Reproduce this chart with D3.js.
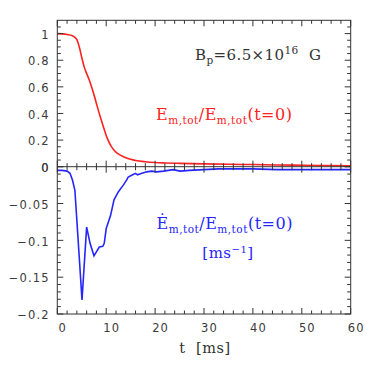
<!DOCTYPE html>
<html><head><meta charset="utf-8">
<script src="https://cdn.jsdelivr.net/npm/d3@7"></script>
<style>body{margin:0;background:#fff}svg{display:block}</style>
</head><body>
<script>
// ---- data ----
const tRed = [0,1,2,3,3.5,4,4.5,5,5.5,6,6.5,7,7.5,8,8.5,9,9.5,10,10.5,11,11.5,12,13,14,15,16,18,20,22,25,30,35,40,45,50,55,60];
const eRed = [1.0,0.998,0.993,0.985,0.975,0.955,0.9,0.82,0.75,0.7,0.655,0.6,0.54,0.475,0.41,0.35,0.29,0.235,0.19,0.155,0.13,0.11,0.085,0.068,0.056,0.047,0.037,0.031,0.028,0.025,0.021,0.018,0.016,0.013,0.011,0.009,0.007];
const tBlue = [0,1,2,2.6,3.1,3.6,4.0,4.5,5.05,5.5,6.0,6.7,7.5,8.05,8.6,9.3,9.6,10.0,10.9,11.6,12.5,13.5,14.2,14.5,15.4,16.0,16.4,17.3,18.3,19.3,20.3,21.7,23.7,25.1,27,30,33,36,40,45,50,55,60];
const eBlue = [-0.005,-0.005,-0.006,-0.009,-0.018,-0.032,-0.073,-0.124,-0.181,-0.134,-0.082,-0.104,-0.121,-0.115,-0.109,-0.108,-0.104,-0.084,-0.066,-0.045,-0.034,-0.025,-0.018,-0.014,-0.011,-0.009,-0.011,-0.009,-0.007,-0.006,-0.007,-0.006,-0.004,-0.006,-0.005,-0.004,-0.003,-0.003,-0.003,-0.004,-0.004,-0.004,-0.004];
const xTickLabels = ["0","10","20","30","40","50","60"];
const yTopTickLabels = ["0","0.2","0.4","0.6","0.8","1"];
const yBotTickLabels = ["0","−0.05","−0.1","−0.15","−0.2"];

const W = 371, H = 371;
const L = 57.3, R = 350.7, T = 20.3, M = 166.7, B = 314;
const frame = "#333";
const red = "#ff2020", blue = "#2525ff";

const svg = d3.select("body").append("svg").attr("width", W).attr("height", H);

const x = d3.scaleLinear().domain([0, 60]).range([L, R]);
const yT = d3.scaleLinear().domain([0, 1.1]).range([M, T]);
const yB = d3.scaleLinear().domain([-0.2, 0]).range([B, M]);

// curves
const lineT = d3.line().x((d,i)=>x(tRed[i])).y(d=>yT(d)).curve(d3.curveMonotoneX);
const lineB = d3.line().x((d,i)=>x(tBlue[i])).y(d=>yB(d)).curve(d3.curveLinear);
svg.append("path").datum(eRed).attr("d", lineT).attr("fill","none").attr("stroke",red).attr("stroke-width",1.6);
svg.append("path").datum(eBlue).attr("d", lineB).attr("fill","none").attr("stroke",blue).attr("stroke-width",1.6);

// frame
const g = svg.append("g").attr("stroke", frame).attr("stroke-width", 1).attr("fill","none");
g.append("rect").attr("x", L).attr("y", T).attr("width", R-L).attr("height", B-T);
g.append("line").attr("x1", L).attr("x2", R).attr("y1", M).attr("y2", M);

const majLen = 6, minLen = 3.5;
// x ticks
const xMinor = d3.range(0, 60.001, 2);
xMinor.forEach(v => {
  const maj = Math.abs(v % 10) < 1e-6;
  const len = maj ? majLen : minLen;
  const px = x(v);
  g.append("line").attr("x1",px).attr("x2",px).attr("y1",B).attr("y2",B-len);
  g.append("line").attr("x1",px).attr("x2",px).attr("y1",T).attr("y2",T+len);
  g.append("line").attr("x1",px).attr("x2",px).attr("y1",M-len).attr("y2",M+len);
});
// upper y ticks
d3.range(0, 1.0501, 0.05).forEach(v => {
  const maj = Math.abs(Math.round(v*10) - v*10) < 1e-6 && Math.round(v*10)%2===0;
  const len = maj ? majLen : minLen;
  const py = yT(v);
  g.append("line").attr("x1",L).attr("x2",L+len).attr("y1",py).attr("y2",py);
  g.append("line").attr("x1",R).attr("x2",R-len).attr("y1",py).attr("y2",py);
});
// lower y ticks
d3.range(0, 20.001, 1).forEach(k => {
  const v = -k/100;
  const maj = k % 5 === 0;
  const len = maj ? majLen : minLen;
  const py = yB(v);
  g.append("line").attr("x1",L).attr("x2",L+len).attr("y1",py).attr("y2",py);
  g.append("line").attr("x1",R).attr("x2",R-len).attr("y1",py).attr("y2",py);
});

// tick labels
const lab = svg.append("g").attr("font-family","DejaVu Sans").attr("font-size",11.5).attr("fill","#3a3a3a").attr("letter-spacing",1.1);
xTickLabels.forEach(s => {
  lab.append("text").attr("x", x(+s)+5.5).attr("y", 332).attr("text-anchor","middle").text(s);
});
yTopTickLabels.forEach(s => {
  lab.append("text").attr("x", 49.6).attr("y", yT(+s)+5.2).attr("text-anchor","end").text(s);
});
yBotTickLabels.forEach(s => {
  lab.append("text").attr("x", 49.6).attr("y", yB(+s.replace("−","-"))+5.2).attr("text-anchor","end").text(s);
});

// axis title
svg.append("text").attr("x", 205).attr("y", 352.5).attr("text-anchor","middle")
  .attr("font-family","DejaVu Serif").attr("font-size",14.5).attr("letter-spacing",0.6).attr("fill","#333")
  .attr("xml:space","preserve").text("t  [ms]");

// annotations
const serif = "DejaVu Serif";
function ratioText(xp, yp, color, dot){
  const t = svg.append("text").attr("x", xp).attr("y", yp).attr("font-family", serif).attr("font-size", 16)
    .attr("letter-spacing", 0.5).attr("fill", color);
  t.append("tspan").text(dot ? "Ė" : "E");
  t.append("tspan").attr("font-size", 10.5).attr("dy", 4).text("m,tot");
  t.append("tspan").attr("dy", -4).text("/E");
  t.append("tspan").attr("font-size", 10.5).attr("dy", 4).text("m,tot");
  t.append("tspan").attr("dy", -4).text("(t=0)");
  return t;
}
ratioText(156, 120, red, false);
ratioText(156.5, 228.5, blue, true);
const u = svg.append("text").attr("x", 228).attr("y", 258).attr("text-anchor","middle")
  .attr("font-family", serif).attr("font-size", 15).attr("letter-spacing", 0.5).attr("fill", blue);
u.append("tspan").text("[ms");
u.append("tspan").attr("font-size", 10).attr("dy", -5).text("−1");
u.append("tspan").attr("dy", 5).text("]");

const bp = svg.append("text").attr("x", 195).attr("y", 60).attr("font-family", serif).attr("font-size", 15)
  .attr("letter-spacing", 0.4).attr("fill", "#333").attr("xml:space","preserve");
bp.append("tspan").text("B");
bp.append("tspan").attr("font-size", 10.5).attr("dy", 4).text("p");
bp.append("tspan").attr("dy", -4).text("=6.5×10");
bp.append("tspan").attr("font-size", 10.5).attr("dy", -6).text("16");
bp.append("tspan").attr("dy", 6).text("  G");
</script>
</body></html>
